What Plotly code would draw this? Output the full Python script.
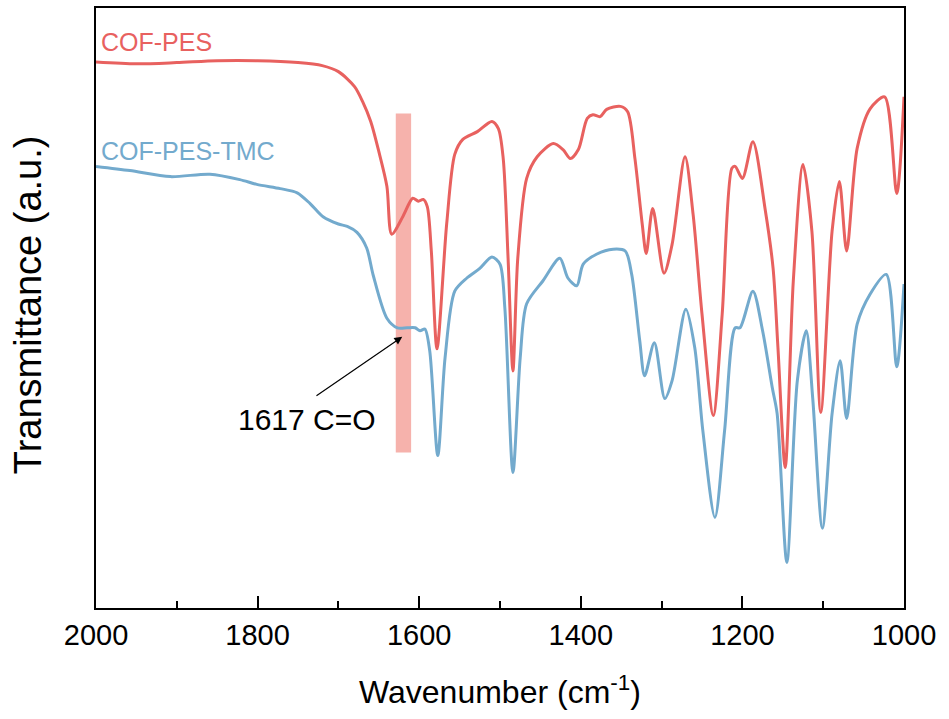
import plotly.graph_objects as go

# FTIR spectra (wavenumber in cm-1, transmittance in a.u.)
wn_pes = [2000, 1950, 1900, 1850, 1800, 1750, 1720, 1700, 1680, 1670, 1660, 1650, 1640, 1634,
          1620, 1608, 1601, 1595, 1590, 1585, 1578, 1566, 1556, 1546, 1528, 1510, 1502, 1496,
          1490, 1484, 1478, 1467, 1454, 1434, 1422, 1413, 1403, 1392, 1385, 1376, 1368, 1351,
          1342, 1333, 1324, 1319, 1311, 1297, 1287, 1271, 1261, 1250, 1236, 1225, 1213, 1209,
          1200, 1187, 1172, 1162, 1156, 1147, 1137, 1125, 1114, 1103, 1089, 1080, 1071, 1058,
          1042, 1024, 1009, 1000]
t_pes = [91.0, 90.7, 90.9, 91.2, 91.2, 90.9, 90.4, 89.4, 86.9, 84.4, 81.1, 76.1, 70.3, 62.3,
         65.3, 68.3, 67.8, 68.1, 66.9, 59.5, 43.2, 64.0, 75.6, 78.1, 79.4, 81.1, 79.9, 74.9,
         58.3, 39.5, 58.3, 71.6, 75.2, 77.4, 76.4, 74.9, 76.4, 81.6, 82.2, 81.9, 83.1, 83.6,
         82.7, 74.9, 64.0, 59.1, 66.6, 55.8, 60.6, 75.2, 65.6, 49.0, 32.1, 49.0, 73.3, 73.6,
         71.6, 77.7, 66.6, 56.6, 43.4, 23.4, 54.5, 73.9, 62.8, 32.6, 62.8, 71.1, 59.5, 76.6,
         83.2, 85.2, 69.1, 85.2]

wn_tmc = [2000, 1958, 1908, 1859, 1822, 1801, 1772, 1751, 1735, 1719, 1700, 1689, 1677, 1665,
          1657, 1640, 1627, 1615, 1605, 1599, 1593, 1587, 1577, 1568, 1556, 1541, 1525, 1510,
          1500, 1494, 1484, 1475, 1467, 1447, 1426, 1416, 1405, 1397, 1380, 1360, 1345, 1337,
          1327, 1321, 1309, 1296, 1287, 1270, 1259, 1249, 1234, 1222, 1209, 1203, 1187, 1175,
          1163, 1157, 1145, 1132, 1121, 1113, 1101, 1089, 1079, 1071, 1058, 1042, 1022, 1009,
          1000]
t_tmc = [73.6, 72.9, 71.9, 72.3, 71.4, 70.6, 69.9, 69.2, 67.4, 65.2, 64.0, 63.6, 62.6, 60.0,
         55.5, 48.3, 46.7, 46.7, 46.7, 46.2, 46.5, 42.9, 25.4, 41.7, 52.8, 55.0, 56.6, 58.5,
         57.3, 50.0, 22.6, 41.7, 50.7, 54.5, 58.3, 55.0, 53.7, 57.3, 59.0, 59.8, 59.5, 55.6,
         44.5, 38.7, 44.2, 34.9, 37.9, 49.8, 43.4, 29.6, 15.1, 29.6, 46.7, 46.7, 52.8, 46.2,
         36.7, 32.4, 7.6, 37.9, 46.2, 35.0, 13.3, 32.4, 41.2, 31.6, 47.3, 52.3, 55.6, 40.2,
         54.0]

x_ticks = [2000, 1800, 1600, 1400, 1200, 1000]
band = (1629, 1610)        # highlighted C=O band
band_t = (25.9, 82.4)
peak_label = "1617 C=O"

RED = "#E8615F"
BLUE = "#73AACD"
FONT = "Arial, Liberation Sans, sans-serif"

fig = go.Figure()
fig.add_shape(type="rect", xref="x", yref="y", x0=band[0], x1=band[1],
              y0=band_t[0], y1=band_t[1], fillcolor="#F6B2AC", line=dict(width=0),
              layer="below")

fig.add_trace(go.Scatter(x=wn_pes, y=t_pes, mode="lines", name="COF-PES",
                         line=dict(color=RED, width=3, shape="spline", smoothing=0.8)))
fig.add_trace(go.Scatter(x=wn_tmc, y=t_tmc, mode="lines", name="COF-PES-TMC",
                         line=dict(color=BLUE, width=3, shape="spline", smoothing=0.8)))

# series labels
fig.add_annotation(x=1996, y=94.4, text="COF-PES", showarrow=False, xanchor="left",
                   font=dict(family=FONT, size=25, color=RED))
fig.add_annotation(x=1996, y=76.2, text="COF-PES-TMC", showarrow=False, xanchor="left",
                   font=dict(family=FONT, size=25, color=BLUE))

# arrow pointing to the C=O shoulder
fig.add_annotation(x=1621, y=45.2, ax=1729, ay=35.2, axref="x", ayref="y", text="",
                   showarrow=True, arrowhead=2, arrowsize=1.3, arrowwidth=1.2,
                   arrowcolor="black")
fig.add_annotation(x=1739, y=31.4, text=peak_label, showarrow=False,
                   font=dict(family=FONT, size=30, color="black"))

# axis titles
fig.add_annotation(xref="paper", yref="paper", x=0.5, y=-0.1, yanchor="top",
                   text="Wavenumber (cm<sup>-1</sup>)", showarrow=False,
                   font=dict(family=FONT, size=32, color="black"))
fig.add_annotation(xref="paper", yref="paper", x=-0.084, y=0.505, textangle=-90,
                   xanchor="center", yanchor="middle",
                   text="Transmittance (a.u.)", showarrow=False,
                   font=dict(family=FONT, size=38, color="black"))

fig.update_layout(
    width=949, height=719,
    margin=dict(l=96, r=45, t=6, b=111),
    plot_bgcolor="white", paper_bgcolor="white",
    showlegend=False,
    font=dict(family=FONT, size=29, color="black"),
    xaxis=dict(range=[2000, 1000], tickvals=x_ticks, ticks="inside", ticklen=12,
               tickwidth=2, tickcolor="black", showline=True, linewidth=2,
               linecolor="black", mirror=True, showgrid=False, zeroline=False,
               minor=dict(dtick=100, ticks="inside", ticklen=7, tickwidth=2,
                          tickcolor="black", showgrid=False),
               tickfont=dict(family=FONT, size=29, color="black")),
    yaxis=dict(range=[0, 100], showticklabels=False, ticks="", showline=True,
               linewidth=2, linecolor="black", mirror=True, showgrid=False,
               zeroline=False),
)

# drop the browser's default page margin so the figure fills the window
fig.write_html("out.html", config={"displayModeBar": False},
               post_script="document.body.style.margin='0';")
